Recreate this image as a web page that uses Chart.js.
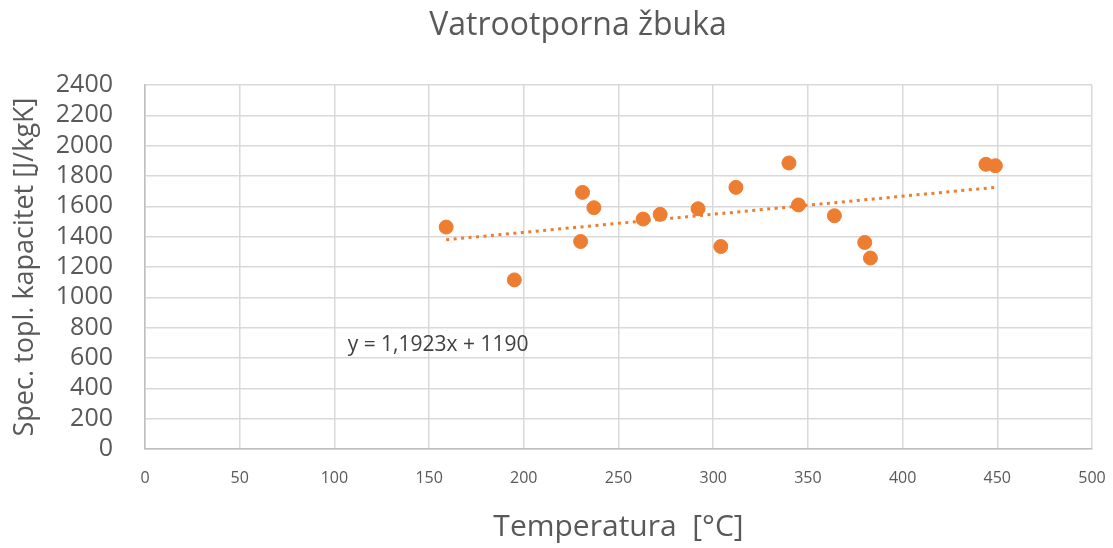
<!DOCTYPE html>
<html>
<head>
<meta charset="utf-8">
<script src="https://cdn.jsdelivr.net/npm/chart.js@4"></script>
<style>
  html, body { margin: 0; padding: 0; background: #fff; }
  #wrap { width: 1113px; height: 548px; }
</style>
</head>
<body>
<div id="wrap"><canvas id="chart" width="1113" height="548"></canvas></div>
<script>
// measured points: temperature [°C] vs spec. heat capacity [J/kgK]
const temperatures = [159, 195, 230, 231, 237, 263, 272, 292, 304, 312, 340, 345, 364, 380, 383, 444, 449]
const capacities = [1463, 1115, 1368, 1692, 1591, 1516, 1547, 1584, 1335, 1725, 1886, 1609, 1538, 1362, 1259, 1877, 1868]

// linear trend as printed on the chart
const slope = 1.1923
const intercept = 1190
const equationText = 'y = 1,1923x + 1190'
const chartTitle = 'Vatrootporna žbuka'

const xTicks = [0, 50, 100, 150, 200, 250, 300, 350, 400, 450, 500]
const yTicks = [0, 200, 400, 600, 800, 1000, 1200, 1400, 1600, 1800, 2000, 2200, 2400]

const orange = '#ED7D31'
const textGray = '#595959'

const points = temperatures.map((t, i) => ({ x: t, y: capacities[i] }))
const tMin = Math.min(...temperatures)
const tMax = Math.max(...temperatures)
const trend = [tMin, tMax].map(t => ({ x: t, y: slope * t + intercept }))

// title sits a bit left of the plot centre, like in the original
const titleText = {
    id: 'titleText',
    afterDraw(chart) {
        const { ctx } = chart
        ctx.save()
        ctx.font = '32px "Open Sans", sans-serif'
        ctx.fillStyle = textGray
        ctx.textAlign = 'center'
        ctx.textBaseline = 'alphabetic'
        ctx.fillText(chartTitle, 578, 35)
        ctx.restore()
    }
}

// equation label, anchored in data coordinates
const equationLabel = {
    id: 'equationLabel',
    afterDatasetsDraw(chart) {
        const { ctx, scales } = chart
        ctx.save()
        ctx.font = '21px "Open Sans", sans-serif'
        ctx.fillStyle = '#404040'
        ctx.textBaseline = 'middle'
        ctx.fillText(equationText, scales.x.getPixelForValue(107), scales.y.getPixelForValue(686))
        ctx.restore()
    }
}

new Chart(document.getElementById('chart').getContext('2d'), {
    type: 'scatter',
    data: {
        datasets: [{
            type: 'line',
            data: trend,
            borderColor: orange,
            borderWidth: 3,
            borderDash: [3, 4.5],
            pointRadius: 0,
            fill: false
        }, {
            data: points,
            backgroundColor: orange,
            borderColor: orange,
            pointRadius: 7,
            pointHoverRadius: 7
        }]
    },
    options: {
        responsive: false,
        animation: false,
        layout: { padding: { left: 0, right: 21, top: 85, bottom: 0 } },
        scales: {
            x: {
                type: 'linear',
                min: 0,
                max: 500,
                afterBuildTicks: scale => { scale.ticks = xTicks.map(v => ({ value: v })) },
                afterFit: scale => {
                    scale.height = 99
                    scale.paddingLeft = 0
                    scale.paddingRight = 0
                },
                grid: { color: '#d9d9d9', lineWidth: 1.5, drawTicks: false },
                border: { color: '#bfbfbf', width: 1.5 },
                ticks: {
                    color: textGray,
                    padding: 20,
                    maxRotation: 0,
                    autoSkip: false,
                    callback: v => String(v),
                    font: { family: '"Open Sans", sans-serif', size: 16 }
                },
                title: {
                    display: true,
                    text: 'Temperatura  [°C]',
                    color: textGray,
                    padding: { top: 0, bottom: 3 },
                    font: { family: '"Open Sans", sans-serif', size: 30 }
                }
            },
            y: {
                min: 0,
                max: 2400,
                afterBuildTicks: scale => { scale.ticks = yTicks.map(v => ({ value: v })) },
                afterFit: scale => {
                    scale.width = 145
                    scale.paddingTop = 0
                    scale.paddingBottom = 0
                },
                grid: { color: '#d9d9d9', lineWidth: 1.5, drawTicks: false },
                border: { color: '#bfbfbf', width: 1.5 },
                ticks: {
                    color: textGray,
                    padding: 32,
                    autoSkip: false,
                    callback: v => String(v),
                    font: { family: '"Open Sans", sans-serif', size: 25 }
                },
                title: {
                    display: true,
                    text: 'Spec. topl. kapacitet [J/kgK]',
                    color: textGray,
                    padding: { top: 9, bottom: 0 },
                    font: { family: '"Open Sans", sans-serif', size: 27 }
                }
            }
        },
        plugins: {
            legend: { display: false },
            tooltip: { enabled: false },
            title: { display: false }
        }
    },
    plugins: [equationLabel, titleText]
})
</script>
</body>
</html>
